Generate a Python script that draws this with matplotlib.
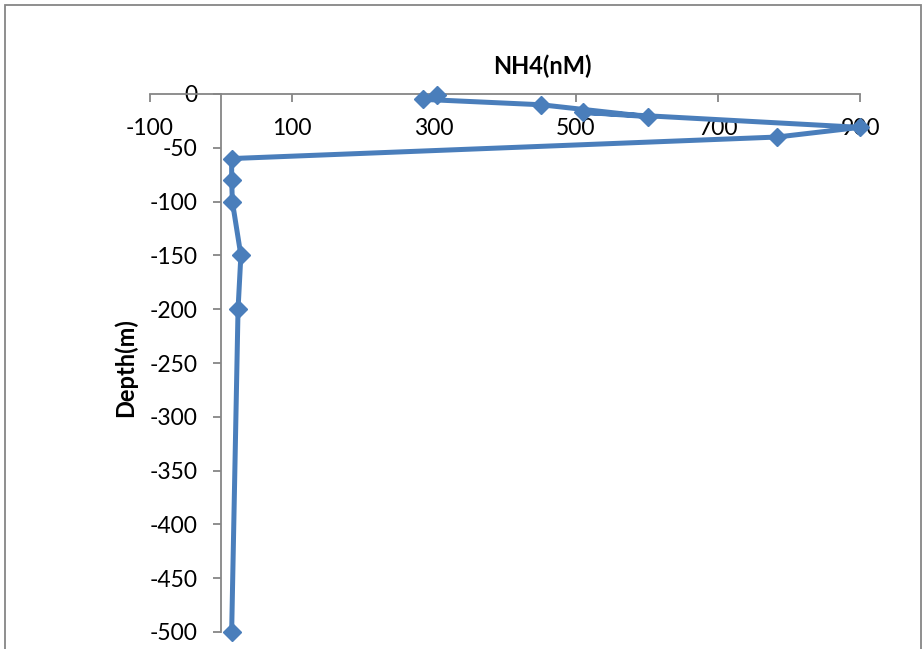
import matplotlib.pyplot as plt
from matplotlib.patches import Rectangle

# NH4 profile, points in sampling order
nh4 = [304, 285, 451, 601, 510, 900, 783, 15, 15, 16, 28, 24, 15]
depth = [-1, -5, -10, -21, -17, -31, -40, -60, -80, -100, -150, -200, -500]

x_ticks = [-100, 100, 300, 500, 700, 900]
y_ticks = [0, -50, -100, -150, -200, -250, -300, -350, -400, -450, -500]

BLUE = "#4a7ebb"
GREY = "#868686"

plt.rcParams.update({
    "font.family": ["Lato", "DejaVu Sans"],
    "font.size": 16.5,
    "axes.unicode_minus": False,
})

W, H = 922, 649
fig = plt.figure(figsize=(W / 100, H / 100), dpi=100)
ax = fig.add_axes([150 / W, (H - 632) / H, (860 - 150) / W, (632 - 94) / H])

ax.plot(nh4, depth, color=BLUE, linewidth=3.6, marker="D", markersize=9.5,
        markerfacecolor=BLUE, markeredgecolor=BLUE, clip_on=False, zorder=3)

ax.set_xlim(-100, 900)
ax.set_ylim(-500, 0)
ax.set_xticks(x_ticks)
ax.set_yticks(y_ticks)

# axes cross at the origin, like a spreadsheet chart
ax.spines["bottom"].set_position(("data", 0))
ax.spines["left"].set_position(("data", 0))
ax.spines["top"].set_visible(False)
ax.spines["right"].set_visible(False)
for side in ("bottom", "left"):
    ax.spines[side].set_color(GREY)
    ax.spines[side].set_linewidth(1.3)
ax.tick_params(axis="both", direction="out", length=6, width=1.3, color=GREY,
               labelsize=16.5, labelcolor="black")
ax.tick_params(axis="x", pad=11)
ax.tick_params(axis="y", pad=11)
ax.patch.set_visible(False)

fig.text(542 / W, 1 - 66 / H, "NH4(nM)", ha="center", va="center",
         fontsize=17, fontweight="bold")
fig.text(125 / W, 1 - 368 / H, "Depth(m)", ha="center", va="center",
         rotation=90, fontsize=17, fontweight="bold")

# chart frame (runs off the bottom edge)
fig.add_artist(Rectangle((5 / W, -0.1), (921 - 5) / W, 1.1 - 5.5 / H,
                         transform=fig.transFigure, fill=False,
                         edgecolor=GREY, linewidth=1.3))

fig.savefig("out.png", dpi=100)
